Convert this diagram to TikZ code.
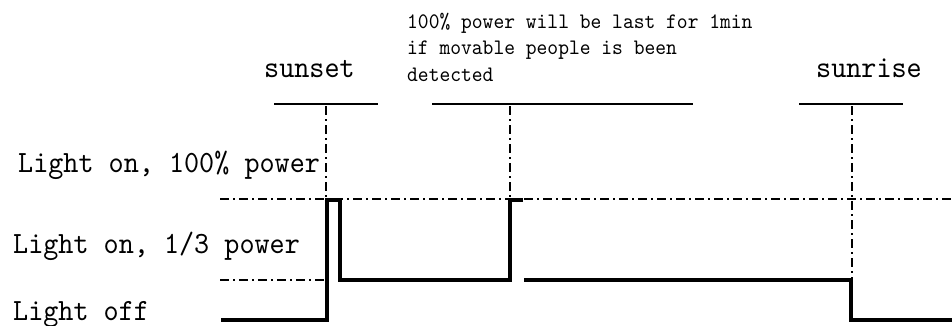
\documentclass[tikz,border=0pt]{standalone}
\usepackage{fontspec}
\newfontfamily\monof[FakeStretch=0.93]{lmmono10-regular.otf}
\tikzset{
  biglabel/.style={inner sep=0pt, anchor=base west, font=\monof\fontsize{30.9}{34}\selectfont},
  smalllabel/.style={inner sep=0pt, anchor=base west, font=\monof\fontsize{22.1}{26.5}\selectfont},
  bar/.style={line width=2pt},
  dashdot/.style={line width=1.5pt, dash pattern=on 9pt off 4pt on 2pt off 4pt},
  wave/.style={line width=4pt, line join=miter}
}
\begin{document}
\begin{tikzpicture}[x=1pt,y=-1pt]
\useasboundingbox (0,0) rectangle (952,325);
% level labels
\node[biglabel] (lfull) at (18,172) {Light on, 100\% power};
\node[biglabel] (lthird) at (13,253) {Light on, 1/3 power};
\node[biglabel] (loff) at (13,320) {Light off};
% event labels
\node[biglabel] (sunset) at (264,77) {sunset};
\node[biglabel] (sunrise) at (816,77) {sunrise};
\node[smalllabel] (ann1) at (407,28) {100\% power will be last for 1min};
\node[smalllabel] (ann2) at (407,54.5) {if movable people is been};
\node[smalllabel] (ann3) at (407,81) {detected};
% bars under event labels
\coordinate (b1a) at (274,104); \coordinate (b1b) at (378,104);
\coordinate (b2a) at (432,104); \coordinate (b2b) at (693,104);
\coordinate (b3a) at (799,104); \coordinate (b3b) at (903,104);
\draw[bar] (b1a) -- (b1b);
\draw[bar] (b2a) -- (b2b);
\draw[bar] (b3a) -- (b3b);
% dash-dot guide lines
\coordinate (hf1) at (220,199); \coordinate (hf2) at (952,199);
\coordinate (ht1) at (220,280); \coordinate (ht2) at (326,280);
\draw[dashdot] (hf1) -- (hf2);
\draw[dashdot] (ht1) -- (ht2);
\coordinate (v1a) at (326,106); \coordinate (v1b) at (326,199);
\coordinate (v2a) at (510,106); \coordinate (v2b) at (510,199);
\coordinate (v3a) at (852,106); \coordinate (v3b) at (852,280);
\draw[dashdot] (v1a) -- (v1b);
\draw[dashdot] (v2a) -- (v2b);
\draw[dashdot] (v3a) -- (v3b);
% waveform
\draw[wave] (221,320) -- (327,320) -- (327,200) -- (340,200) -- (340,280)
  -- (510,280) -- (510,200) -- (523,200);
\draw[wave] (524,280) -- (851,280) -- (851,320) -- (952,320);
\end{tikzpicture}
\end{document}
